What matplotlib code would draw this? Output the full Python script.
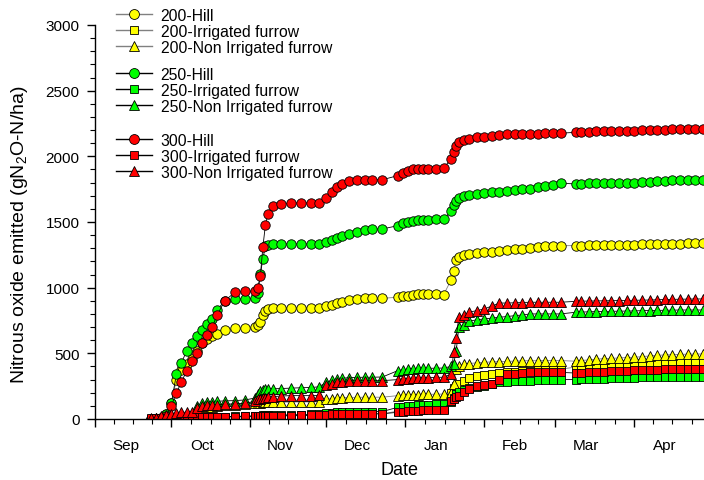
import matplotlib
matplotlib.use("Agg")
import matplotlib.pyplot as plt
from matplotlib.lines import Line2D
from matplotlib.ticker import MultipleLocator, NullFormatter
from datetime import datetime, timedelta

plt.rcParams['font.family'] = ['Liberation Sans', 'DejaVu Sans']
plt.rcParams['mathtext.fontset'] = 'custom'
plt.rcParams['mathtext.rm'] = 'Liberation Sans'
plt.rcParams['mathtext.it'] = 'Liberation Sans:italic'

# ---- data (days after 1 Sep 2013) ----
days = [22, 24, 26, 28, 30, 32, 34, 36, 38, 40, 42, 44, 46, 48, 51, 55, 59, 63, 64, 65,
        66, 67, 68, 70, 73, 77, 81, 85, 88, 91, 93, 95, 97, 100, 103, 106, 109, 113, 119, 121,
        123, 125, 127, 129, 131, 134, 137, 140, 141, 142, 143, 145, 147, 150, 153,
        156, 159, 162, 165, 168, 171, 174, 177, 180, 183, 189, 191, 194, 197, 200,
        203, 206, 209, 212, 215, 218, 221, 224, 227, 230, 233, 236, 239]

hill_200 = [0, 0, 5, 40, 120, 300, 370, 419, 460, 520, 575, 610, 635, 650, 675,
            690, 691, 697, 715, 740, 790, 820, 835, 843, 845, 845, 845, 845, 848, 860,
            870, 880, 893, 906, 914, 919, 919, 919, 927, 935, 940, 944, 948, 952, 952,
            950, 944, 1060, 1130, 1210, 1235, 1248, 1257, 1264, 1268,
            1272, 1280, 1286, 1293, 1298, 1305, 1312, 1318, 1320, 1320,
            1320, 1321, 1322, 1323, 1324, 1325, 1326, 1327, 1328, 1329,
            1330, 1332, 1333, 1334, 1336, 1337, 1338, 1338]
if_200 = [2, 3, 4, 5, 6, 7, 8, 9, 10, 10, 11, 11, 12, 12, 13,
          14, 15, 16, 17, 18, 19, 20, 21, 22, 23, 24, 25, 26, 27, 30,
          32, 34, 35, 36, 37, 38, 38, 39, 60, 63, 66, 68, 70, 72, 73,
          74, 75, 200, 234, 255, 270, 290, 310, 325, 333,
          343, 350, 355, 360, 363, 368, 372, 375, 378, 380,
          395, 398, 402, 405, 408, 411, 414, 417, 420, 423,
          426, 429, 432, 435, 438, 440, 442, 444]
ni_200 = [0, 5, 10, 15, 20, 22, 25, 28, 30, 60, 80, 90, 95, 100, 105,
          110, 115, 120, 122, 125, 126, 127, 128, 128, 128, 129, 130, 130, 132, 150,
          155, 160, 162, 165, 165, 166, 166, 166, 178, 180, 182, 184, 186, 187, 188,
          189, 190, 200, 267, 380, 406, 419, 422, 428, 432,
          435, 437, 439, 441, 443, 444, 444, 445, 445, 445,
          440, 445, 450, 455, 460, 462, 465, 468, 470, 475,
          480, 485, 488, 490, 492, 494, 495, 495]

hill_250 = [0, 0, 5, 40, 120, 340, 430, 516, 580, 630, 680, 720, 760, 830, 900,
            914, 914, 920, 960, 1104, 1219, 1320, 1328, 1333, 1333, 1333, 1333, 1333, 1335, 1350,
            1362, 1376, 1392, 1409, 1425, 1436, 1445, 1447, 1472, 1490, 1500, 1508, 1513, 1516, 1518,
            1520, 1523, 1580, 1630, 1660, 1680, 1698, 1706, 1712, 1718,
            1725, 1732, 1738, 1744, 1750, 1755, 1765, 1775, 1785, 1795,
            1790, 1792, 1794, 1796, 1797, 1798, 1799, 1800, 1800, 1803,
            1806, 1810, 1813, 1816, 1818, 1820, 1822, 1822]
if_250 = [3, 4, 5, 6, 8, 10, 12, 14, 15, 15, 16, 16, 17, 18, 19,
          20, 22, 24, 25, 26, 27, 28, 29, 30, 31, 32, 34, 35, 38, 45,
          48, 50, 52, 53, 54, 55, 56, 57, 89, 93, 98, 102, 106, 108, 110,
          112, 114, 130, 160, 190, 205, 220, 235, 245, 255,
          265, 279, 283, 286, 289, 292, 294, 296, 298, 300,
          300, 302, 304, 306, 308, 310, 312, 314, 315, 317,
          318, 319, 320, 321, 322, 322, 322, 322]
ni_250 = [0, 5, 10, 15, 20, 25, 30, 35, 40, 100, 120, 130, 132, 135, 138,
          140, 145, 160, 190, 210, 220, 225, 228, 230, 232, 235, 238, 240, 245, 280,
          295, 305, 310, 315, 317, 318, 318, 320, 368, 375, 380, 383, 385, 386, 386,
          387, 388, 400, 419, 520, 698, 715, 745, 755, 762,
          768, 775, 780, 787, 792, 800, 800, 800, 800, 800,
          813, 814, 816, 818, 819, 820, 821, 822, 823, 825,
          826, 827, 828, 829, 830, 830, 830, 830]

hill_300 = [0, 0, 3, 20, 100, 200, 280, 368, 440, 500, 580, 640, 698, 790, 900,
            965, 972, 972, 1000, 1090, 1310, 1480, 1560, 1625, 1637, 1645, 1645, 1645, 1648, 1680,
            1725, 1765, 1790, 1810, 1818, 1822, 1822, 1822, 1853, 1875, 1891, 1900, 1904, 1904, 1904,
            1904, 1910, 1980, 2030, 2075, 2110, 2128, 2135, 2145, 2150,
            2158, 2163, 2168, 2170, 2171, 2172, 2173, 2174, 2175, 2176,
            2183, 2185, 2188, 2190, 2192, 2193, 2194, 2195, 2196, 2198,
            2200, 2201, 2203, 2205, 2206, 2207, 2208, 2208]
if_300 = [5, 5, 8, 10, 10, 12, 13, 14, 15, 15, 15, 16, 17, 18, 18,
          19, 20, 20, 21, 22, 23, 24, 25, 25, 25, 26, 27, 28, 30, 33,
          35, 36, 37, 38, 38, 39, 40, 40, 51, 55, 58, 60, 63, 65, 67,
          69, 71, 140, 155, 165, 178, 205, 225, 254, 262,
          267, 300, 343, 345, 350, 355, 355, 355, 355, 355,
          350, 352, 355, 358, 360, 362, 365, 368, 370, 372,
          374, 376, 378, 379, 380, 381, 381, 381]
ni_300 = [5, 10, 20, 30, 40, 45, 50, 52, 55, 80, 100, 105, 107, 110, 112,
          116, 120, 135, 150, 155, 160, 163, 165, 170, 175, 178, 178, 178, 180, 260,
          270, 280, 285, 290, 292, 292, 292, 292, 300, 305, 308, 310, 312, 313, 315,
          317, 318, 343, 508, 620, 775, 790, 813, 825, 838,
          860, 883, 883, 885, 887, 889, 889, 889, 889, 889,
          896, 897, 898, 899, 900, 901, 902, 903, 904, 905,
          906, 908, 910, 911, 912, 913, 914, 914]

rates = ['200', '250', '300']
treatments = ['Hill', 'Irrigated furrow', 'Non Irrigated furrow']
series = {
    '200': [hill_200, if_200, ni_200],
    '250': [hill_250, if_250, ni_250],
    '300': [hill_300, if_300, ni_300],
}
month_labels = ['Sep', 'Oct', 'Nov', 'Dec', 'Jan', 'Feb', 'Mar', 'Apr']

# ---- styling ----
colors = {'200': '#FFFF00', '250': '#00FF00', '300': '#FF0000'}
line_colors = {'200': '#808080', '250': '#000000', '300': '#000000'}
markers = ['o', 's', '^']
msizes = [6.8, 6.0, 7.2]

base = datetime(2013, 9, 1)
x = [base + timedelta(days=d) for d in days]

fig = plt.figure(figsize=(7.04, 4.81), dpi=100)
ax = fig.add_axes([95 / 704, 61 / 481, 609 / 704, 394 / 481])

for r in rates:
    for t, vals, m, ms in zip(treatments, series[r], markers, msizes):
        ax.plot(x, vals, color=line_colors[r], lw=0.6, marker=m, ms=ms,
                mfc=colors[r], mec='black', mew=0.6, label=f'{r}-{t}')

ax.set_ylim(0, 3000)
ax.set_xlim(base, base + timedelta(days=239.4))
ax.yaxis.set_major_locator(MultipleLocator(500))
ax.yaxis.set_minor_locator(MultipleLocator(100))

month_starts = [datetime(2013, 9, 1), datetime(2013, 10, 1), datetime(2013, 11, 1),
                datetime(2013, 12, 1), datetime(2014, 1, 1), datetime(2014, 2, 1),
                datetime(2014, 3, 1), datetime(2014, 4, 1), datetime(2014, 5, 1)]
minor = []
for a, b in zip(month_starts[:-1], month_starts[1:]):
    span = (b - a).days
    for q in (0.25, 0.5, 0.75):
        minor.append(a + timedelta(days=span * q))
ax.set_xticks(month_starts[:-1])
ax.set_xticklabels([''] * (len(month_starts) - 1))
ax.set_xticks(minor, minor=True)
ax.xaxis.set_minor_formatter(NullFormatter())

for ms_, lab in zip(month_starts[:-1], month_labels):
    ax.text(ms_ + timedelta(days=12), -0.065, lab, transform=ax.get_xaxis_transform(),
            ha='center', va='center', fontsize=11)

for s in ['top', 'right']:
    ax.spines[s].set_visible(False)
for s in ['left', 'bottom']:
    ax.spines[s].set_linewidth(1.0)

ax.tick_params(axis='both', which='major', direction='out', length=6, width=1.0,
               labelsize=11, pad=5)
ax.tick_params(axis='both', which='minor', direction='out', length=3.5, width=0.8)

ax.set_xlabel('Date', fontsize=13, labelpad=19)
ax.set_ylabel('Nitrous oxide emitted (gN$_2$O-N/ha)', fontsize=14)
ax.yaxis.set_label_coords(-0.106, 0.47)

fs = 11.3
tops = [9.0, 68.0, 134.0]
for r, top in zip(rates, tops):
    hs = [Line2D([], [], color=line_colors[r], lw=1.0, marker=m, ms=ms + 0.3,
                 mfc=colors[r], mec='black', mew=0.6) for m, ms in zip(markers, msizes)]
    fig.legend(hs, [f'{r}-{t}' for t in treatments], loc='upper left',
               bbox_to_anchor=(116 / 704, 1 - top / 481), frameon=False,
               fontsize=fs, borderpad=0, borderaxespad=0, handlelength=2.3,
               handletextpad=0.55, handleheight=0.9, labelspacing=0.07)

fig.savefig('out.png', dpi=100)
